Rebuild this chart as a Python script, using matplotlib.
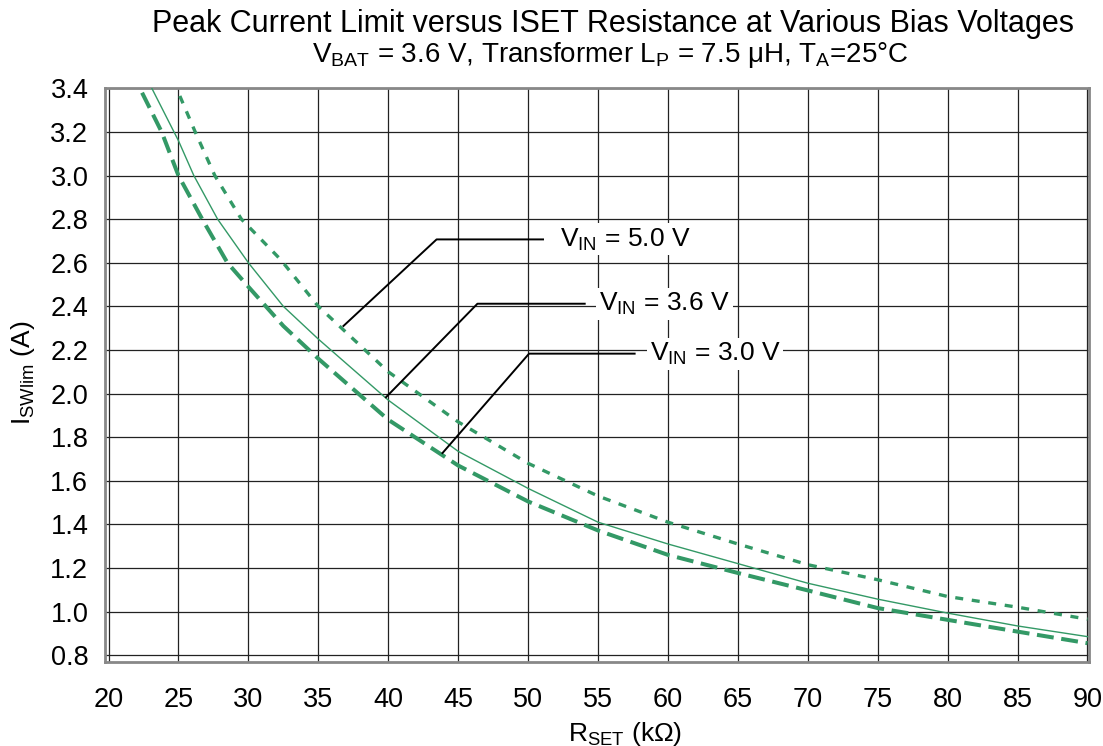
import numpy as np
import matplotlib.pyplot as plt

plt.rcParams['font.family'] = ['Liberation Sans', 'DejaVu Sans']
plt.rcParams['mathtext.fontset'] = 'custom'
plt.rcParams['mathtext.rm'] = 'Liberation Sans'
plt.rcParams['mathtext.it'] = 'Liberation Sans'

# data
x_50 = [25.1, 26.2, 27.6, 29.5, 32.3, 35, 40, 45, 50, 55, 60, 65, 70, 75, 80, 85, 90]
i_50 = [3.365, 3.20, 3.00, 2.80, 2.615, 2.40, 2.10, 1.87, 1.68, 1.53, 1.41, 1.31, 1.215, 1.146, 1.069, 1.02, 0.965]

x_36 = [23.1, 25, 26.1, 27.8, 30, 32.5, 35, 40, 45, 50, 55, 60, 65, 70, 75, 80, 85, 90]
i_36 = [3.40, 3.16, 3.00, 2.80, 2.60, 2.40, 2.25, 1.97, 1.735, 1.565, 1.41, 1.31, 1.22, 1.13, 1.057, 0.993, 0.934, 0.885]

x_30 = [22.4, 23.8, 25, 26.7, 28.5, 30, 32.5, 35, 40, 45, 50, 55, 60, 65, 70, 75, 80, 85, 90]
i_30 = [3.38, 3.20, 3.00, 2.80, 2.60, 2.49, 2.31, 2.16, 1.88, 1.67, 1.505, 1.372, 1.26, 1.177, 1.097, 1.016, 0.962, 0.908, 0.855]

green = '#339966'

fig = plt.figure(figsize=(11.03, 7.46), dpi=100)
ax = fig.add_axes([0.0952, 0.113, 0.892, 0.7686])

ax.plot(x_50, i_50, color=green, lw=2.4, linestyle=(0, (2.4, 2.6)), zorder=3)
ax.plot(x_36, i_36, color=green, lw=1.0, zorder=3)
ax.plot(x_30, i_30, color=green, lw=2.9, linestyle=(0, (4.2, 1.9)), zorder=3)

ax.set_xlim(19.75, 90.1)
ax.set_ylim(0.77, 3.4)
ax.set_xticks(np.arange(20, 91, 5))
ax.set_yticks(np.arange(0.8, 3.41, 0.2))
ax.set_yticklabels(['%.1f' % v for v in np.arange(0.8, 3.41, 0.2)])
ax.tick_params(length=0, labelsize=19.5)
ax.tick_params(axis='x', pad=18)
ax.tick_params(axis='y', pad=12)
ax.grid(True, color='#222222', lw=0.9)
ax.set_axisbelow(True)
for s in ax.spines.values():
    s.set_color('#888888')
    s.set_linewidth(2)

# leader lines and labels
labels = [r'$\mathregular{V_{IN}}$ = 5.0 V', r'$\mathregular{V_{IN}}$ = 3.6 V', r'$\mathregular{V_{IN}}$ = 3.0 V']
starts = [(36.8, 2.31), (39.84, 1.983), (43.88, 1.727)]
corners = [(43.46, 2.707), (46.38, 2.412), (50.07, 2.183)]
ends = [51.07, 54.05, 57.62]
text_x = [52.3, 55.1, 58.7]
for lab, st, co, ex, tx in zip(labels, starts, corners, ends, text_x):
    ax.plot([st[0], co[0], ex], [st[1], co[1], co[1]], color='black', lw=1.4, zorder=4)
    ax.text(tx, co[1], lab, fontsize=19, va='center', ha='left', zorder=5,
            bbox=dict(facecolor='white', edgecolor='none', pad=2))

fig.text(0.556, 0.968, 'Peak Current Limit versus ISET Resistance at Various Bias Voltages',
         ha='center', va='center', fontsize=22)
fig.text(0.553, 0.926, r'$\mathregular{V_{BAT}}$ = 3.6 V, Transformer $\mathregular{L_P}$ = 7.5 μH, $\mathregular{T_A}$=25°C',
         ha='center', va='center', fontsize=20)
fig.text(0.567, 0.016, r'$\mathregular{R_{SET}}$ (kΩ)', ha='center', va='center', fontsize=19)
fig.text(0.021, 0.5, r'$\mathregular{I_{SWlim}}$ (A)', ha='center', va='center', fontsize=19, rotation=90)

fig.savefig('out.png', dpi=100)
